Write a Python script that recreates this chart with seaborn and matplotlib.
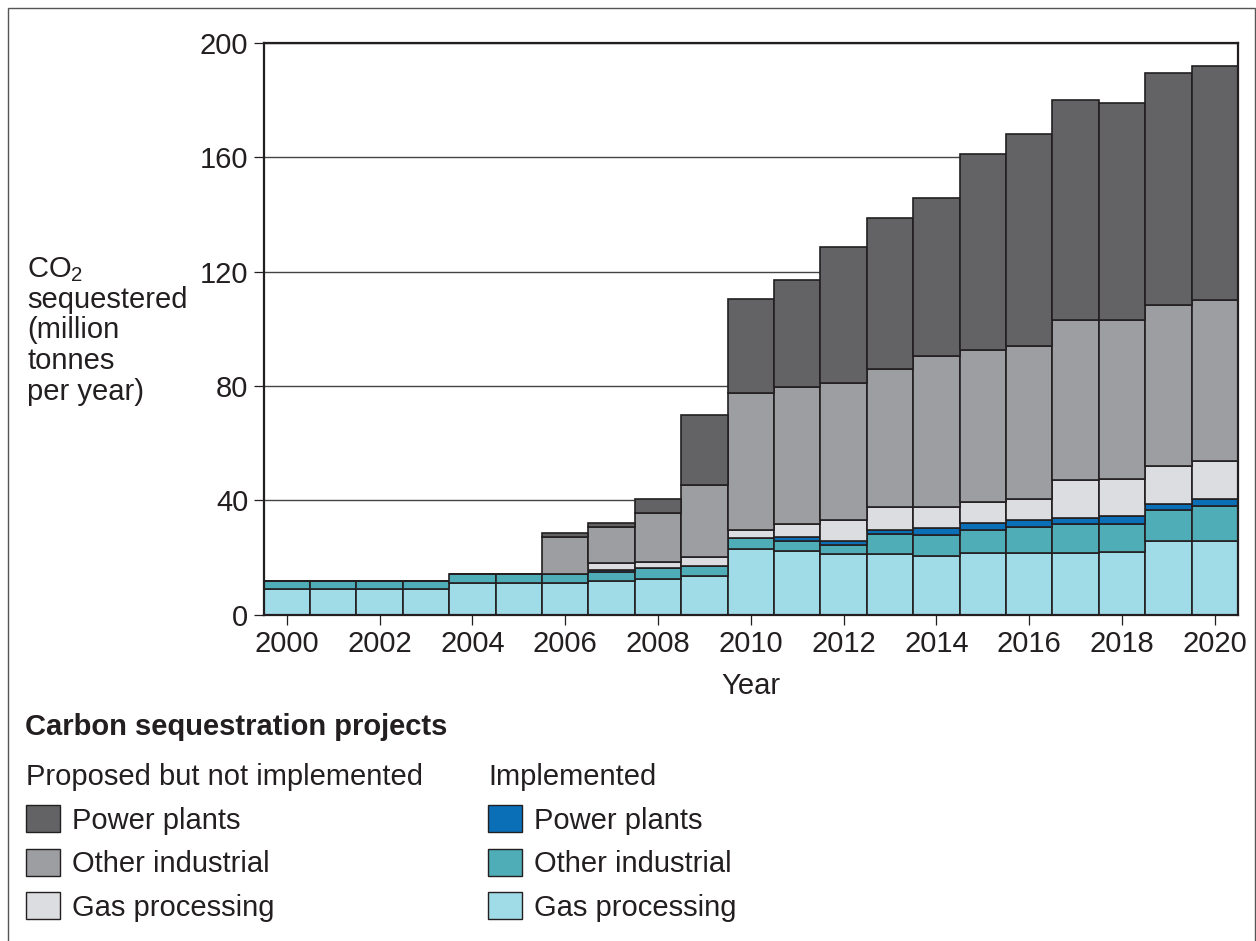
import matplotlib
matplotlib.use('Agg')
import matplotlib.pyplot as plt
from matplotlib.patches import Patch, Rectangle
import pandas as pd
import seaborn as sns

# Data (million tonnes CO2 per year)
years = list(range(2000, 2021))
impl_gas = [8.8, 8.8, 8.8, 8.8, 10.9, 10.9, 10.9, 11.8, 12.5, 13.4, 23.0,
            22.3, 21.1, 21.1, 20.3, 21.5, 21.5, 21.5, 21.9, 25.7, 25.7]
impl_other = [2.8, 2.8, 2.8, 2.8, 3.3, 3.3, 3.3, 3.2, 3.7, 3.6, 3.6,
              3.3, 3.2, 7.1, 7.5, 7.9, 9.1, 10.3, 9.9, 10.7, 12.3]
impl_power = [0, 0, 0, 0, 0, 0, 0, 0.6, 0, 0, 0,
              1.5, 1.5, 1.2, 2.3, 2.6, 2.3, 2.0, 2.5, 2.1, 2.3]
prop_gas = [0, 0, 0, 0, 0, 0, 0, 2.4, 2.3, 3.1, 3.0,
            4.7, 7.4, 8.1, 7.5, 7.4, 7.5, 13.3, 13.1, 13.5, 13.3]
prop_other = [0, 0, 0, 0, 0, 0, 13.0, 12.5, 16.9, 25.1, 47.9,
              47.7, 47.9, 48.4, 52.9, 53.2, 53.4, 55.9, 55.6, 56.2, 56.6]
prop_power = [0, 0, 0, 0, 0, 0, 1.2, 1.4, 5.0, 24.7, 32.9,
              37.5, 47.6, 52.9, 55.4, 68.5, 74.3, 77.1, 76.1, 81.4, 81.6]

series = {
    'prop_power': prop_power,
    'prop_other': prop_other,
    'prop_gas': prop_gas,
    'impl_power': impl_power,
    'impl_other': impl_other,
    'impl_gas': impl_gas,
}
colors = {
    'prop_power': '#636365',
    'prop_other': '#9d9ea2',
    'prop_gas': '#dcdde0',
    'impl_power': '#0b6fb8',
    'impl_other': '#4fadb7',
    'impl_gas': '#a0dbe8',
}
labels = ['Power plants', 'Other industrial', 'Gas processing']

rows = []
for key, vals in series.items():
    for y, v in zip(years, vals):
        rows.append({'year': y, 'value': v, 'category': key})
df = pd.DataFrame(rows)

sns.set_style('white')
plt.rcParams['font.family'] = ['Liberation Sans', 'DejaVu Sans']
plt.rcParams['mathtext.fontset'] = 'custom'
plt.rcParams['mathtext.rm'] = 'Liberation Sans'
plt.rcParams['mathtext.it'] = 'Liberation Sans:italic'
plt.rcParams['text.color'] = '#231f20'

fs = 21
ink = '#231f20'
W, H = 1256, 941

fig = plt.figure(figsize=(W / 100, H / 100), dpi=100)
ax = fig.add_axes([263.5 / W, 1 - 614.5 / H, (1238 - 263.5) / W, (614.5 - 43) / H])

sns.histplot(data=df, x='year', weights='value', hue='category',
             hue_order=list(series.keys()), palette=colors,
             multiple='stack', discrete=True, shrink=1, alpha=1,
             edgecolor=ink, linewidth=1.2, legend=False, ax=ax)

ax.set_xlim(1999.5, 2020.5)
ax.set_ylim(0, 200)
ax.set_xticks(range(2000, 2021, 2))
ax.set_yticks(range(0, 201, 40))
ax.set_axisbelow(True)
ax.yaxis.grid(True, color='#444444', lw=1)
ax.xaxis.grid(False)
for s in ax.spines.values():
    s.set_visible(True)
    s.set_color(ink)
    s.set_linewidth(1.6)
ax.tick_params(axis='both', which='major', labelsize=fs, colors=ink,
               direction='out', length=7, width=0.9, pad=4,
               bottom=True, left=True)
ax.set_xlabel('Year', fontsize=fs, color=ink, labelpad=10)
ax.set_ylabel('')

# y-axis label, horizontal block on the left
fig.text(27 / W, 1 - 277 / H, 'CO$_2$', fontsize=fs, ha='left', va='baseline')
ylines = ['sequestered', '(million', 'tonnes', 'per year)']
for i, t in enumerate(ylines):
    fig.text(27 / W, 1 - (307.5 + 31 * i) / H, t, fontsize=fs, ha='left', va='baseline')

# legend block
fig.text(25 / W, 1 - 727 / H, 'Carbon sequestration projects', fontsize=fs,
         fontweight='bold', ha='left', va='center')

left_handles = [Patch(facecolor=colors[k], edgecolor=ink, lw=1)
                for k in ['prop_power', 'prop_other', 'prop_gas']]
right_handles = [Patch(facecolor=colors[k], edgecolor=ink, lw=1)
                 for k in ['impl_power', 'impl_other', 'impl_gas']]

leg_kw = dict(loc='upper left', frameon=False, fontsize=fs, title_fontsize=fs,
              handlelength=1.17, handleheight=1.06, handletextpad=0.4,
              labelspacing=0.48, borderpad=0, borderaxespad=0, alignment='left')
leg1 = fig.legend(left_handles, labels, title='Proposed but not implemented',
                  bbox_to_anchor=(26 / W, 1 - 763 / H), **leg_kw)
leg2 = fig.legend(right_handles, labels, title='Implemented',
                  bbox_to_anchor=(488 / W, 1 - 763 / H), **leg_kw)

# outer frame
fig.add_artist(Rectangle((7.5 / W, -0.05), (1254.5 - 7.5) / W, 1.05 - 7.5 / H,
                         transform=fig.transFigure, fill=False,
                         edgecolor='#555555', lw=1))

fig.savefig('out.png', dpi=100)
